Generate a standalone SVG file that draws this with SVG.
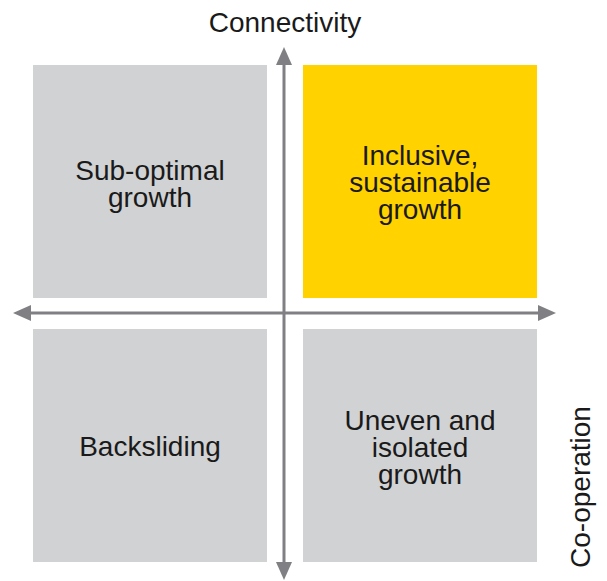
<svg xmlns="http://www.w3.org/2000/svg" width="607" height="581" viewBox="0 0 607 581">
<style>
.box{fill:#d1d2d4}
.hi{fill:#ffd200}
.t{font-family:"Liberation Sans",Arial,sans-serif;font-size:28px;fill:#1a1a1a;text-anchor:middle}
.ax{stroke:#808084;stroke-width:3;fill:none}
.ah{fill:#808084}
</style>
<rect width="607" height="581" fill="#ffffff"/>
<g id="sub-optimal">
<rect class="box" x="33" y="65" width="234" height="233"/>
<text class="t" x="150" y="180">Sub-optimal</text>
<text class="t" x="150" y="207">growth</text>
</g>
<g id="inclusive">
<rect class="hi" x="303" y="65" width="234" height="233"/>
<text class="t" x="420" y="165">Inclusive,</text>
<text class="t" x="420" y="192">sustainable</text>
<text class="t" x="420" y="219">growth</text>
</g>
<g id="backsliding">
<rect class="box" x="33" y="329" width="234" height="233"/>
<text class="t" x="150" y="456">Backsliding</text>
</g>
<g id="uneven">
<rect class="box" x="303" y="329" width="234" height="233"/>
<text class="t" x="420" y="430">Uneven and</text>
<text class="t" x="420" y="457">isolated</text>
<text class="t" x="420" y="484">growth</text>
</g>
<g id="connectors">
<line class="ax" x1="28" y1="313" x2="541" y2="313"/>
<polygon class="ah" points="13,313 31,305 31,321"/>
<polygon class="ah" points="556,313 538,305 538,321"/>
<line class="ax" x1="284" y1="62" x2="284" y2="565"/>
<polygon class="ah" points="284,47 276,65 292,65"/>
<polygon class="ah" points="284,580 276,562 292,562"/>
</g>
<g id="labels">
<text class="t" x="285" y="32">Connectivity</text>
<text class="t" transform="translate(590,487) rotate(-90)">Co-operation</text>
</g>
</svg>
